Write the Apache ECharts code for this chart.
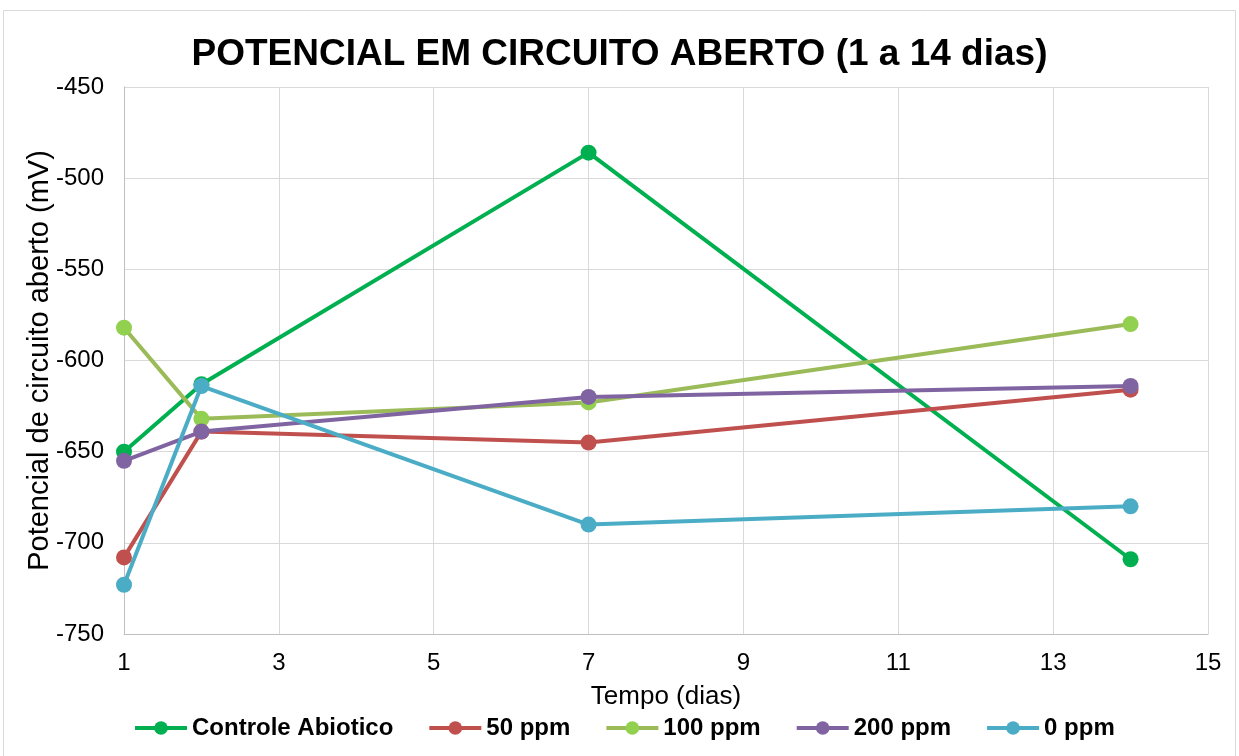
<!DOCTYPE html>
<html>
<head>
<meta charset="utf-8">
<script src="https://cdn.jsdelivr.net/npm/echarts@6/dist/echarts.min.js"></script>
<style>
  html, body { margin: 0; padding: 0; background: #fff; }
  #chart { width: 1239px; height: 756px; }
</style>
</head>
<body>
<div id="chart"></div>
<script>
// Open-circuit potential over 14 days (mV)
const days = [1, 2, 7, 14];
const controleAbiotico = [-650, -613, -486, -709];
const ppm50 = [-708, -639, -645, -616];
const ppm100 = [-582, -632, -623, -580];
const ppm200 = [-655, -639, -620, -614];
const ppm0 = [-723, -614, -690, -680];

const seriesDefs = [
  { name: 'Controle Abiotico', data: controleAbiotico, line: '#00B050', marker: '#00B050' },
  { name: '50 ppm', data: ppm50, line: '#C0504D', marker: '#C0504D' },
  { name: '100 ppm', data: ppm100, line: '#9BBB59', marker: '#92D050' },
  { name: '200 ppm', data: ppm200, line: '#8064A2', marker: '#8064A2' },
  { name: '0 ppm', data: ppm0, line: '#4BACC6', marker: '#4BACC6' }
];

const chart = echarts.init(document.getElementById('chart'));
const font = 'Liberation Sans, Arial, sans-serif';

chart.setOption({
  animation: false,
  backgroundColor: '#fff',
  title: {
    text: 'POTENCIAL EM CIRCUITO ABERTO (1 a 14 dias)',
    left: 'center',
    top: 31,
    textStyle: { fontFamily: font, fontSize: 37, fontWeight: 'bold', color: '#000' }
  },
  graphic: [{
    type: 'rect',
    shape: { x: 3.5, y: 10.5, width: 1232, height: 750 },
    style: { fill: 'none', stroke: '#D9D9D9', lineWidth: 1 },
    silent: true
  }],
  legend: {
    top: 711,
    left: 128,
    itemGap: 34,
    itemWidth: 52,
    itemHeight: 17,
    lineStyle: { width: 4 },
    textStyle: { fontFamily: font, fontSize: 24, fontWeight: 'bold', color: '#000' },
    data: seriesDefs.map(s => s.name)
  },
  grid: { left: 124, right: 31, top: 87, bottom: 122 },
  xAxis: {
    type: 'value',
    min: 1,
    max: 15,
    interval: 2,
    name: 'Tempo (dias)',
    nameLocation: 'middle',
    nameGap: 50,
    nameTextStyle: { fontFamily: font, fontSize: 26, color: '#000' },
    axisLine: { show: true, lineStyle: { color: '#BFBFBF', width: 1 } },
    axisTick: { show: false },
    axisLabel: { fontFamily: font, fontSize: 24, color: '#000', margin: 17 },
    splitLine: { show: true, lineStyle: { color: '#D9D9D9', width: 1 } }
  },
  yAxis: {
    type: 'value',
    min: -750,
    max: -450,
    interval: 50,
    name: 'Potencial de circuito aberto (mV)',
    nameLocation: 'middle',
    nameGap: 70,
    nameRotate: 90,
    nameMoveOverlap: false,
    nameTextStyle: { fontFamily: font, fontSize: 29, color: '#000' },
    axisLine: { show: true, lineStyle: { color: '#BFBFBF', width: 1 } },
    axisTick: { show: false },
    axisLabel: { fontFamily: font, fontSize: 24, color: '#000', margin: 20 },
    splitLine: { show: true, lineStyle: { color: '#D9D9D9', width: 1 } }
  },
  series: seriesDefs.map(s => ({
    name: s.name,
    type: 'line',
    data: days.map((d, i) => [d, s.data[i]]),
    symbol: 'circle',
    symbolSize: 16,
    showAllSymbol: true,
    lineStyle: { color: s.line, width: 4 },
    itemStyle: { color: s.marker, borderWidth: 0 },
    color: s.line
  }))
});
</script>
</body>
</html>
